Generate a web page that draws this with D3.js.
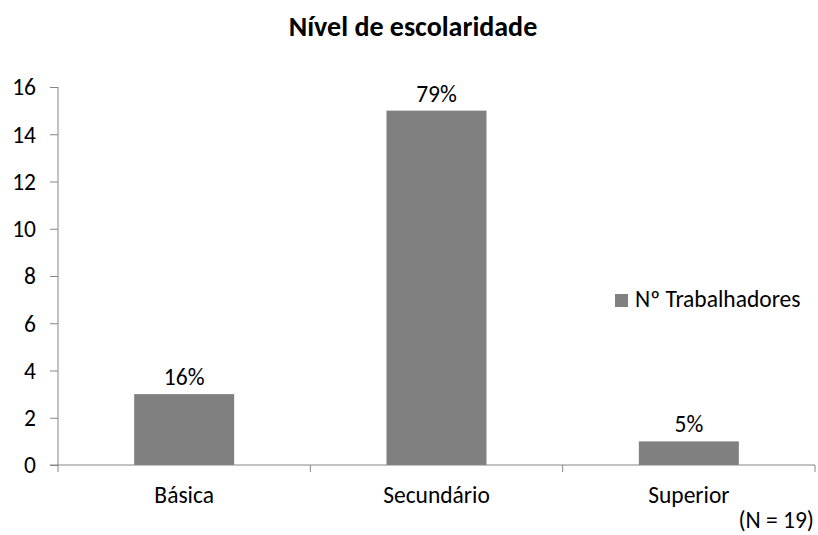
<!DOCTYPE html>
<html>
<head>
<meta charset="utf-8">
<script src="https://cdn.jsdelivr.net/npm/d3@7"></script>
<style>
  body { margin: 0; background: #fff; }
  svg { display: block; font-family: Carlito, Calibri, Lato, "Open Sans", sans-serif; }
</style>
</head>
<body>
<div id="chart"></div>
<script>
// Nível de escolaridade — barras simples, rótulos em %
const categories = ["Básica", "Secundário", "Superior"];
const values = [3, 15, 1];
const pctLabels = ["16%", "79%", "5%"];
const yTicks = [0, 2, 4, 6, 8, 10, 12, 14, 16];
const seriesName = "Nº Trabalhadores";

const W = 818, H = 535;
const ML = 58, MR = 815, TOP = 87, BOT = 465;
const BAR = "#808080", AXIS = "#868686", INK = "#000";
const FS = 23.5;

const svg = d3.select("#chart").append("svg").attr("width", W).attr("height", H);

const x = d3.scaleBand().domain(categories).range([ML, MR]).paddingInner(0).paddingOuter(0);
const y = d3.scaleLinear().domain([0, 16]).range([BOT, TOP]);
const bw = 100;

// título
svg.append("text").attr("x", 413).attr("y", 36).attr("text-anchor", "middle")
  .attr("style", `font-weight:700;font-size:28px;fill:${INK}`).text("Nível de escolaridade");

// eixo y
const gy = svg.append("g").attr("transform", `translate(${ML},0)`)
  .call(d3.axisLeft(y).tickValues(yTicks).tickSize(8).tickPadding(14))
  .attr("font-family", null).attr("font-size", null);
gy.select(".domain").attr("stroke", AXIS).attr("d", `M-0,${TOP}V${BOT}`);
gy.selectAll(".tick line").attr("stroke", AXIS);
gy.selectAll(".tick text").attr("fill", INK).style("font-size", FS + "px").attr("dy", "0.33em");

// barras
svg.selectAll("rect.bar").data(values).join("rect").attr("class", "bar")
  .attr("x", (d, i) => x(categories[i]) + x.bandwidth() / 2 - bw / 2)
  .attr("width", bw)
  .attr("y", d => y(d))
  .attr("height", d => y(0) - y(d))
  .attr("fill", BAR);

// eixo x
const gx = svg.append("g").attr("transform", `translate(0,${BOT})`);
gx.append("line").attr("x1", ML - 8).attr("x2", MR).attr("y1", 0).attr("y2", 0)
  .attr("stroke", AXIS);
const bounds = [ML].concat(categories.map(c => x(c) + x.bandwidth()));
bounds.forEach(b => gx.append("line").attr("x1", b).attr("x2", b).attr("y1", 0).attr("y2", 7)
  .attr("stroke", AXIS));
categories.forEach(c => gx.append("text")
  .attr("x", x(c) + x.bandwidth() / 2).attr("y", 38).attr("text-anchor", "middle")
  .attr("style", `font-size:${FS}px;fill:${INK}`).text(c));

// rótulos de percentagem
svg.selectAll("text.pct").data(values).join("text").attr("class", "pct")
  .attr("x", (d, i) => x(categories[i]) + x.bandwidth() / 2)
  .attr("y", d => y(d) - 9)
  .attr("text-anchor", "middle")
  .attr("style", `font-size:${FS}px;fill:${INK}`)
  .text((d, i) => pctLabels[i]);

// legenda
const lg = svg.append("g").attr("transform", "translate(615,294)");
lg.append("rect").attr("width", 13).attr("height", 13).attr("fill", BAR);
lg.append("text").attr("x", 20).attr("y", 13).attr("style", `font-size:${FS}px;fill:${INK}`).text(seriesName);

// nota
svg.append("text").attr("x", 814).attr("y", 528).attr("text-anchor", "end")
  .attr("style", `font-size:${FS}px;fill:${INK}`).text("(N = 19)");
</script>
</body>
</html>
